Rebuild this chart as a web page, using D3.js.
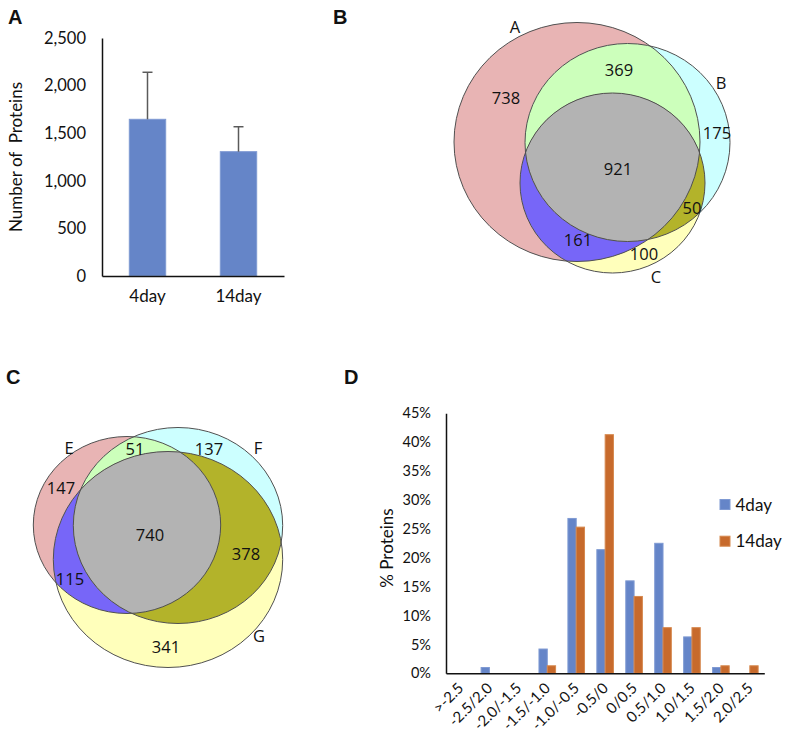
<!DOCTYPE html>
<html><head><meta charset="utf-8">
<script src="https://cdn.jsdelivr.net/npm/d3@7"></script>
<style>
html,body{margin:0;padding:0;background:#fff;}
svg{display:block;}
</style></head>
<body>
<svg id="chart" width="786" height="735"></svg>
<script>
// ---------- DATA ----------
// Panel A
const groupsA = ["4day", "14day"];
const meansA = [1646, 1306];
const errUpperA = [2140, 1568];
const ticksA = [0, 500, 1000, 1500, 2000, 2500];

// Panel B venn (region counts)
const setNamesB = ["A", "B", "C"];
const regionLabelsB = ["738", "369", "175", "921", "50", "161", "100"];

// Panel C venn (region counts)
const setNamesC = ["E", "F", "G"];
const regionLabelsC = ["147", "51", "137", "740", "378", "115", "341"];

// Panel D
const categoriesD = [">-2.5", "-2.5/2.0", "-2.0/-1.5", "-1.5/-1.0", "-1.0/-0.5", "-0.5/0", "0/0.5", "0.5/1.0", "1.0/1.5", "1.5/2.0", "2.0/2.5"];
const seriesD = ["4day", "14day"];
const values4day = [0, 1.0, 0, 4.2, 26.8, 21.4, 16.0, 22.5, 6.3, 1.0, 0];
const values14day = [0, 0, 0, 1.3, 25.3, 41.3, 13.3, 7.9, 7.9, 1.3, 1.3];
const ticksD = [0, 5, 10, 15, 20, 25, 30, 35, 40, 45];

// ---------- STYLE ----------
const BLUE = "#6585C8", BLUE_EDGE = "#7F9AD3";
const ORANGE = "#C76A2C", ORANGE_EDGE = "#D6894F";
const FONT = "Lato, 'Open Sans', sans-serif";
const VFONT = "'Open Sans', 'DejaVu Sans', sans-serif";

const svg = d3.select("#chart");

// panel letters
const letters = [["A", 8, 24], ["B", 333, 24], ["C", 6, 384], ["D", 344, 384]];
svg.selectAll("text.plabel").data(letters).enter().append("text")
  .attr("x", d => d[1]).attr("y", d => d[2])
  .attr("font-family", "'Liberation Sans', Arial, sans-serif")
  .attr("font-weight", "bold").attr("font-size", 20).attr("fill", "#111")
  .text(d => d[0]);

// ---------- PANEL A ----------
(function () {
  const g = svg.append("g");
  const y = d3.scaleLinear().domain([0, 2500]).range([276, 38]);
  const x = d3.scaleBand().domain(groupsA).range([102, 284]).paddingInner(0.6).paddingOuter(0.3);
  g.selectAll("rect.bar").data(groupsA).enter().append("rect")
    .attr("x", d => x(d)).attr("width", x.bandwidth())
    .attr("y", (d, i) => y(meansA[i])).attr("height", (d, i) => y(0) - y(meansA[i]))
    .attr("fill", BLUE).attr("stroke", BLUE_EDGE).attr("stroke-width", 1);
  groupsA.forEach((d, i) => {
    const cx = x(d) + x.bandwidth() / 2;
    g.append("line").attr("x1", cx).attr("x2", cx).attr("y1", y(meansA[i])).attr("y2", y(errUpperA[i]))
      .attr("stroke", "#5a5a5a").attr("stroke-width", 1.5);
    g.append("line").attr("x1", cx - 5).attr("x2", cx + 5).attr("y1", y(errUpperA[i])).attr("y2", y(errUpperA[i]))
      .attr("stroke", "#5a5a5a").attr("stroke-width", 1.5);
  });
  const ya = g.append("g").attr("transform", "translate(102,0)")
    .call(d3.axisLeft(y).tickValues(ticksA).tickSize(0).tickPadding(16).tickFormat(d3.format(",")));
  ya.select(".domain").attr("stroke", "#111").attr("stroke-width", 1.5);
  ya.selectAll("text").attr("font-family", FONT).attr("font-size", 16.5).attr("fill", "#111");
  const xa = g.append("g").attr("transform", "translate(0,276)")
    .call(d3.axisBottom(x).tickSize(0).tickPadding(14));
  xa.select(".domain").attr("stroke", "#111").attr("stroke-width", 1.5);
  xa.selectAll("text").attr("font-family", FONT).attr("font-size", 17).attr("fill", "#111");
  g.append("text").attr("transform", "translate(22,157) rotate(-90)")
    .attr("text-anchor", "middle").attr("font-family", FONT).attr("font-size", 17).attr("fill", "#111")
    .attr("xml:space", "preserve")
    .text("Number of  Proteins");
})();

// ---------- VENN helper ----------
const COLORS = {a: "#E8B4B4", b: "#CCFFFF", c: "#FFFFBB", ab: "#CCFFBB", ac: "#7766F8", bc: "#B3B32A", abc: "#B3B3B3"};
function venn(id, sets) {
  const g = svg.append("g");
  const defs = g.append("defs");
  sets.forEach((s, i) => {
    defs.append("clipPath").attr("id", id + "c" + i)
      .append("ellipse").attr("cx", s.cx).attr("cy", s.cy).attr("rx", s.rx).attr("ry", s.ry);
  });
  const ell = (sel, s, fill) => sel.append("ellipse").attr("cx", s.cx).attr("cy", s.cy)
    .attr("rx", s.rx).attr("ry", s.ry).attr("fill", fill);
  ell(g, sets[0], COLORS.a);
  ell(g, sets[1], COLORS.b);
  ell(g, sets[2], COLORS.c);
  ell(g.append("g").attr("clip-path", `url(#${id}c0)`), sets[1], COLORS.ab);
  ell(g.append("g").attr("clip-path", `url(#${id}c0)`), sets[2], COLORS.ac);
  ell(g.append("g").attr("clip-path", `url(#${id}c1)`), sets[2], COLORS.bc);
  ell(g.append("g").attr("clip-path", `url(#${id}c0)`).append("g").attr("clip-path", `url(#${id}c1)`), sets[2], COLORS.abc);
  sets.forEach(s => {
    g.append("ellipse").attr("cx", s.cx).attr("cy", s.cy).attr("rx", s.rx).attr("ry", s.ry)
      .attr("fill", "none").attr("stroke", "#505050").attr("stroke-width", 1);
  });
  return g;
}
function vennText(g, items) {
  g.selectAll("text.vl").data(items).enter().append("text")
    .attr("x", d => d[1]).attr("y", d => d[2]).attr("text-anchor", "middle")
    .attr("dominant-baseline", "central")
    .attr("font-family", VFONT).attr("font-size", 16.5).attr("fill", "#111")
    .text(d => d[0]);
}

// ---------- PANEL B ----------
(function () {
  const sets = [
    {cx: 577, cy: 142, rx: 123, ry: 119.5},
    {cx: 627.5, cy: 142.5, rx: 102.5, ry: 99},
    {cx: 612.5, cy: 183, rx: 92.5, ry: 90}
  ];
  const g = venn("vb", sets);
  const pos = [[506, 97], [619, 69], [717, 132], [618, 168], [692, 207], [578, 239], [644, 253]];
  vennText(g, regionLabelsB.map((t, i) => [t, pos[i][0], pos[i][1]]));
  const lpos = [[515, 26], [721, 82], [656, 276]];
  vennText(g, setNamesB.map((t, i) => [t, lpos[i][0], lpos[i][1]]));
})();

// ---------- PANEL C ----------
(function () {
  const sets = [
    {cx: 127, cy: 525, rx: 93.7, ry: 88.5},
    {cx: 178, cy: 525.5, rx: 104.7, ry: 98},
    {cx: 168, cy: 559.5, rx: 114.7, ry: 108}
  ];
  const g = venn("vc", sets);
  const pos = [[61, 487], [135, 448], [209, 448], [150, 534], [246, 553], [70, 578], [166, 646]];
  vennText(g, regionLabelsC.map((t, i) => [t, pos[i][0], pos[i][1]]));
  const lpos = [[69, 447], [258, 447], [259, 635]];
  vennText(g, setNamesC.map((t, i) => [t, lpos[i][0], lpos[i][1]]));
})();

// ---------- PANEL D ----------
(function () {
  const g = svg.append("g");
  const y = d3.scaleLinear().domain([0, 45]).range([673.3, 413.3]);
  const x0 = d3.scaleBand().domain(categoriesD).range([446, 764.3]).paddingInner(0.426).paddingOuter(0.213);
  const x1 = d3.scaleBand().domain(seriesD).range([0, x0.bandwidth()]);
  const vals = [values4day, values14day];
  const fills = [BLUE, ORANGE], edges = [BLUE_EDGE, ORANGE_EDGE];
  seriesD.forEach((s, si) => {
    g.selectAll("rect.s" + si).data(categoriesD).enter().append("rect")
      .filter((d, i) => vals[si][i] > 0)
      .attr("x", d => x0(d) + x1(s)).attr("width", x1.bandwidth())
      .attr("y", d => y(vals[si][categoriesD.indexOf(d)]))
      .attr("height", d => y(0) - y(vals[si][categoriesD.indexOf(d)]))
      .attr("fill", fills[si]).attr("stroke", edges[si]).attr("stroke-width", 1);
  });
  const ya = g.append("g").attr("transform", "translate(446,0)")
    .call(d3.axisLeft(y).tickValues(ticksD).tickSize(0).tickPadding(15).tickFormat(d => d + "%"));
  ya.select(".domain").attr("stroke", "#111").attr("stroke-width", 1.5);
  ya.selectAll("text").attr("font-family", FONT).attr("font-size", 14.5).attr("fill", "#111");
  const xa = g.append("g").attr("transform", "translate(0,673.3)")
    .call(d3.axisBottom(x0).tickSize(0).tickFormat(""));
  xa.select(".domain").attr("stroke", "#111").attr("stroke-width", 1.5);
  g.selectAll("text.xl").data(categoriesD).enter().append("text")
    .attr("transform", d => `translate(${x0(d) + x0.bandwidth() / 2 + 4},689) rotate(-45)`)
    .attr("text-anchor", "end").attr("font-family", FONT).attr("font-size", 15).attr("fill", "#111")
    .text(d => d);
  g.append("text").attr("transform", "translate(393,548) rotate(-90)")
    .attr("text-anchor", "middle").attr("font-family", FONT).attr("font-size", 17).attr("fill", "#111")
    .text("% Proteins");
  const lg = g.append("g");
  seriesD.forEach((s, i) => {
    lg.append("rect").attr("x", 720).attr("y", 499.5 + i * 36.7).attr("width", 10).attr("height", 10)
      .attr("fill", fills[i]).attr("stroke", edges[i]).attr("stroke-width", 1);
    lg.append("text").attr("x", 735.5).attr("y", 510.5 + i * 36.7)
      .attr("font-family", FONT).attr("font-size", 17).attr("fill", "#111").text(s);
  });
})();
</script>
</body></html>
